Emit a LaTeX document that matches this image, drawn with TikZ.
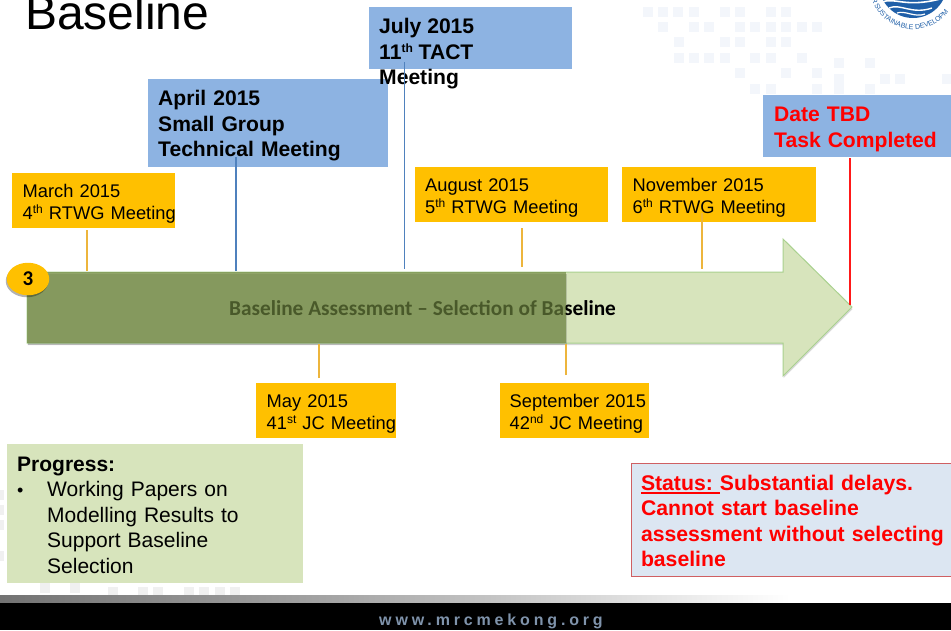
\documentclass[tikz,border=0pt]{standalone}
\usepackage{fontspec}
\setmainfont{Liberation Sans}
\newfontfamily\carlito{Carlito}
\newfontfamily\footf[LetterSpace=24]{Liberation Sans}
\usetikzlibrary{shadows,decorations.text,calc,shapes.geometric}
\definecolor{orangebox}{HTML}{FFC000}
\definecolor{bluebox}{HTML}{8DB3E2}
\definecolor{greenbox}{HTML}{D7E4BC}
\definecolor{arrowedge}{HTML}{A9D18E}
\definecolor{olivebar}{RGB}{110,134,63}
\definecolor{statusfill}{HTML}{DCE6F2}
\definecolor{statusedge}{HTML}{CF5F62}
\definecolor{orangeline}{HTML}{EDB53C}
\definecolor{blueline}{HTML}{4F81BD}
\definecolor{logoblue}{HTML}{1F5FA8}
\definecolor{sq}{HTML}{F3F6FB}
\definecolor{sqg}{HTML}{F0F0F0}
\definecolor{urlblue}{HTML}{7F93AB}
\tikzset{
  orangenode/.style={anchor=north west,fill=orangebox,inner xsep=10.5pt,inner ysep=0pt,align=left,
    font=\fontsize{18.3pt}{22pt}\selectfont,text=black,execute at begin node={\rule{0pt}{19.5pt}}},
  bluenode/.style={anchor=north west,fill=bluebox,inner xsep=10pt,inner ysep=0pt,align=left,
    font=\bfseries\fontsize{21.1pt}{25.5pt}\selectfont,text=black,execute at begin node={\rule{0pt}{21pt}}},
  orangeconn/.style={draw=orangeline,line width=1.3pt},
  blueconn/.style={draw=blueline,line width=1.2pt},
  redconn/.style={draw=red!90!white,line width=1.5pt},
  tinysq/.style={fill=sq,draw=none},
}
\newcommand{\sqrow}[2]{\foreach \sx in {#2}{\fill[tinysq] (\sx-5,#1-5) rectangle (\sx+5,#1+5);}}
\newcommand{\sqgrow}[2]{\foreach \sx in {#2}{\fill[sqg] (\sx-5,#1-5) rectangle (\sx+5,#1+5);}}
\newcommand{\sups}[1]{\raisebox{6.5pt}{\fontsize{12pt}{12pt}\selectfont #1}}
\newcommand{\thickul}[1]{\sbox0{#1}\rlap{\rule[-3.2pt]{\wd0}{1.6pt}}\box0 }
\begin{document}
\begin{tikzpicture}[x=1pt,y=-1pt]
\useasboundingbox (0,0) rectangle (951,630);
\fill[white] (0,0) rectangle (951,630);
% faint background squares
\sqrow{12}{648,663,678,694,725,740,771,786}
\sqrow{27}{663,694,709,740,755,771,786,802,817}
\sqrow{42}{679,725,740,771,786}
\sqrow{58}{679,694,709,725,755,771,802}
\sqrow{63}{839,870}
\sqrow{73}{740,786,817}
\sqrow{79}{839,885,900,947}
\sqrow{89}{755,771,817,839,870}
\sqgrow{588}{45,75}
\sqgrow{592}{113,143,158,189,204,220,235}
\sqgrow{495}{-1}\sqgrow{510}{-1}\sqgrow{525}{-1}\sqgrow{556}{-1}
% logo
\begin{scope}
\clip (860,0) rectangle (951,40);
\fill[logoblue] (913,-16) circle[radius=34];
\draw[white,line width=1.6pt] (882,2) .. controls (895,-3) and (905,8) .. (940,-1);
\draw[white,line width=1.4pt] (889,8) .. controls (900,3) and (912,15) .. (932,8);
\draw[white,line width=1.2pt] (897,13) .. controls (905,10) and (915,18) .. (925,14);
\end{scope}
\begin{scope}[y=1pt]
\path[decorate,decoration={text along path,text align=left,
  text={|\fontsize{7pt}{7pt}\selectfont\color{logoblue}|R SUSTAINABLE DEVELOPM}}]
  (871.6,1) arc[start angle=198,end angle=325,radius=44];
\end{scope}
% title
\node[anchor=base west,inner sep=0pt,font=\fontsize{48pt}{48pt}\selectfont] (title) at (25,29) {Baseline};
% arrow
\path[fill=greenbox,draw=arrowedge,line width=1pt,
  drop shadow={shadow xshift=0.5pt,shadow yshift=-2pt,opacity=.15,fill=black}]
  (27,272) -- (783,272) -- (783,239) -- (852,307) -- (783,376) -- (783,343) -- (27,343) -- cycle;
\node[inner sep=0pt,font=\carlito\bfseries\fontsize{21.3pt}{24pt}\selectfont] (taskname) at (422.5,308.5)
  {Baseline Assessment – Selection of Baseline};
\path[fill=olivebar,fill opacity=.67,draw=none,
  drop shadow={shadow xshift=0.5pt,shadow yshift=-2pt,opacity=.15,fill=black}]
  (27,272) rectangle (566,343);
% badge
\node[ellipse,fill=orangebox,minimum width=42.5pt,minimum height=32.5pt,inner sep=0pt,
  font=\carlito\bfseries\fontsize{21pt}{24pt}\selectfont,
  drop shadow={shadow xshift=-1pt,shadow yshift=-2pt,opacity=.3,fill=black}] (badge) at (28,279) {3};
% blue boxes
\node[anchor=north west,fill=bluebox,inner sep=0pt,minimum width=203pt,minimum height=62pt] (july) at (369,7) {};
\node[bluenode,text width=220pt,minimum height=88pt] (april) at (148,79)
  {\mbox{April 2015}\\\mbox{Small Group}\\\mbox{Technical Meeting}};
\node[anchor=north west,inner sep=0pt,align=left,font=\bfseries\fontsize{21.1pt}{25.5pt}\selectfont] (julytext) at (379,18.5)
  {July 2015\\11\sups{th} TACT\\Meeting};
\node[bluenode,inner xsep=11pt,text width=166pt,minimum height=62pt,text=red] (tbd) at (763,95)
  {\mbox{Date TBD}\\\mbox{Task Completed}};
% orange boxes
\node[orangenode,text width=142pt,minimum height=55pt] (march) at (12,173)
  {\mbox{March 2015}\\\mbox{4\sups{th} RTWG Meeting}};
\node[orangenode,text width=172.5pt,minimum height=55pt] (august) at (414.5,167)
  {\mbox{August 2015}\\\mbox{5\sups{th} RTWG Meeting}};
\node[orangenode,text width=173pt,minimum height=55pt] (november) at (622,167)
  {\mbox{November 2015}\\\mbox{6\sups{th} RTWG Meeting}};
\node[orangenode,text width=119pt,minimum height=55pt] (may) at (256,383)
  {\mbox{May 2015}\\\mbox{41\sups{st} JC Meeting}};
\node[orangenode,inner xsep=9.5pt,text width=130pt,minimum height=55pt] (september) at (500,383)
  {\mbox{September 2015}\\\mbox{42\sups{nd} JC Meeting}};
% progress
\node[anchor=north west,fill=greenbox,inner xsep=10pt,inner ysep=0pt,text width=276pt,minimum height=139pt,align=left,
  font=\fontsize{21pt}{25.5pt}\selectfont,execute at begin node={\rule{0pt}{17pt}}] (progress) at (7,444)
  {\textbf{Progress:}\\\makebox[30pt][l]{\fontsize{18pt}{18pt}\selectfont\textbullet}Working Papers on\\\hspace*{30pt}Modelling Results to\\\hspace*{30pt}Support Baseline\\\hspace*{30pt}Selection};
% status
\node[anchor=north west,fill=statusfill,draw=statusedge,line width=1pt,inner xsep=9.5pt,inner ysep=0pt,text width=321pt,
  minimum height=113pt,align=left,text=red,
  font=\bfseries\fontsize{21.2pt}{25.5pt}\selectfont,execute at begin node={\rule{0pt}{17.5pt}}] (status) at (631,463)
  {\thickul{Status:\ }Substantial delays.\\Cannot start baseline\\\mbox{assessment without selecting}\\baseline};
% connectors
\coordinate (c1) at (87,271);
\coordinate (c2) at (236,271);
\coordinate (c3) at (404.5,269);
\coordinate (c4) at (522,267);
\coordinate (c5) at (702,269);
\coordinate (c6) at (850,305);
\coordinate (c7) at (319,344);
\coordinate (c8) at (566,344);
\draw[orangeconn] ([yshift=-2pt]c1 |- march.south) -- (c1);
\draw[blueconn] ([yshift=10pt]c2 |- april.south) -- (c2);
\draw[blueconn] ([yshift=7pt]c3 |- july.south) -- (c3);
\draw[orangeconn] ([yshift=-6pt]c4 |- august.south) -- (c4);
\draw[orangeconn] ([yshift=9pt]c5 |- november.south) -- (c5);
\draw[redconn] ([yshift=-1pt]c6 |- tbd.south) -- (c6);
\draw[orangeconn] ([yshift=5pt]c7 |- may.north) -- (c7);
\draw[orangeconn] ([yshift=8pt]c8 |- september.north) -- (c8);
% footer
\shade[left color=black!55,right color=black!35,draw=none] (0,595) rectangle (340,603);
\shade[left color=black!35,right color=white,draw=none] (340,595) rectangle (790,603);
\fill[black] (0,603) rectangle (951,630);
\node[inner sep=0pt,text=urlblue,font=\footf\bfseries\fontsize{16pt}{16pt}\selectfont] (url) at (491,621) {www.mrcmekong.org};
\end{tikzpicture}
\end{document}
